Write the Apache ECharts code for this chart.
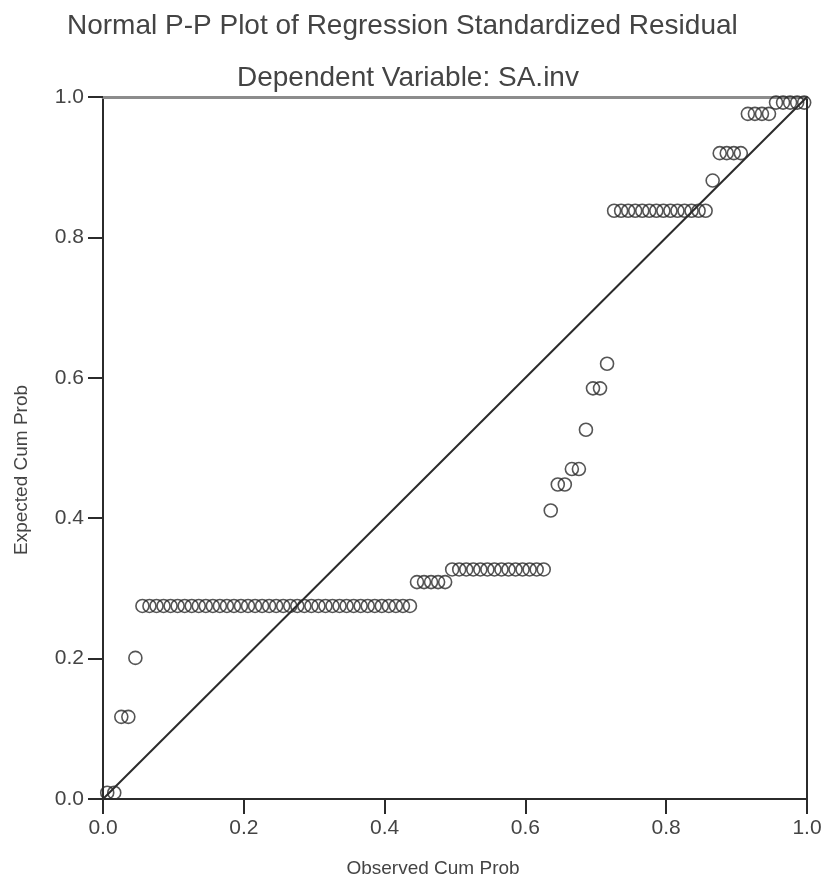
<!DOCTYPE html>
<html>
<head>
<meta charset="utf-8">
<title>Normal P-P Plot</title>
<script src="https://cdn.jsdelivr.net/npm/echarts@6/dist/echarts.min.js"></script>
<style>
  html, body { margin: 0; padding: 0; background: #fff; }
  #main { width: 828px; height: 888px; }
</style>
</head>
<body>
<div id="main"></div>
<script>
// observed cumulative probability (x) for each residual
var observed = [
  0.006, 0.016, 0.026, 0.036, 0.046, 0.056, 0.066, 0.076, 0.086, 0.096,
  0.106, 0.116, 0.126, 0.136, 0.146, 0.156, 0.166, 0.176, 0.186, 0.196,
  0.206, 0.216, 0.226, 0.236, 0.246, 0.256, 0.266, 0.276, 0.286, 0.296,
  0.306, 0.316, 0.326, 0.336, 0.346, 0.356, 0.366, 0.376, 0.386, 0.396,
  0.406, 0.416, 0.426, 0.436, 0.446, 0.456, 0.466, 0.476, 0.486, 0.496,
  0.506, 0.516, 0.526, 0.536, 0.546, 0.556, 0.566, 0.576, 0.586, 0.596,
  0.606, 0.616, 0.626, 0.636, 0.646, 0.656, 0.666, 0.676, 0.686, 0.696,
  0.706, 0.716, 0.726, 0.736, 0.746, 0.756, 0.766, 0.776, 0.786, 0.796,
  0.806, 0.816, 0.826, 0.836, 0.846, 0.856, 0.866, 0.876, 0.886, 0.896,
  0.906, 0.916, 0.926, 0.936, 0.946, 0.956, 0.966, 0.976, 0.986, 0.996
];
// expected cumulative probability (y)
var expected = [
  0.009, 0.009, 0.117, 0.117, 0.201, 0.275, 0.275, 0.275, 0.275, 0.275,
  0.275, 0.275, 0.275, 0.275, 0.275, 0.275, 0.275, 0.275, 0.275, 0.275,
  0.275, 0.275, 0.275, 0.275, 0.275, 0.275, 0.275, 0.275, 0.275, 0.275,
  0.275, 0.275, 0.275, 0.275, 0.275, 0.275, 0.275, 0.275, 0.275, 0.275,
  0.275, 0.275, 0.275, 0.275, 0.309, 0.309, 0.309, 0.309, 0.309, 0.327,
  0.327, 0.327, 0.327, 0.327, 0.327, 0.327, 0.327, 0.327, 0.327, 0.327,
  0.327, 0.327, 0.327, 0.411, 0.448, 0.448, 0.470, 0.470, 0.526, 0.585,
  0.585, 0.620, 0.838, 0.838, 0.838, 0.838, 0.838, 0.838, 0.838, 0.838,
  0.838, 0.838, 0.838, 0.838, 0.838, 0.838, 0.881, 0.920, 0.920, 0.920,
  0.920, 0.976, 0.976, 0.976, 0.976, 0.992, 0.992, 0.992, 0.992, 0.992
];
var refLine = [0, 1];
var axisTicks = [0, 0.2, 0.4, 0.6, 0.8, 1.0];

var points = observed.map(function (x, i) { return [x, expected[i]]; });
var diag = refLine.map(function (v) { return [v, v]; });

var font = "'Liberation Sans', Arial, sans-serif";
var ink = '#2b2b2b';

var chartDom = document.getElementById('main');
var myChart = echarts.init(chartDom, null, { renderer: 'canvas' });
var option;

var mainAxis = function (pos) {
  return {
    type: 'value',
    position: pos,
    min: axisTicks[0],
    max: axisTicks[axisTicks.length - 1],
    interval: 0.2,
    axisLine: { show: true, onZero: false, lineStyle: { color: ink, width: 2 } },
    axisTick: { show: true, length: 15, lineStyle: { color: ink, width: 2 } },
    axisLabel: {
      fontFamily: font, fontSize: 21, color: '#444', margin: 19,
      formatter: function (v) { return v.toFixed(1); }
    },
    splitLine: { show: false }
  };
};

var xMain = mainAxis('bottom');
xMain.name = 'Observed Cum Prob';
xMain.nameLocation = 'middle';
xMain.nameGap = 60;
xMain.nameTextStyle = { fontFamily: font, fontSize: 19, color: '#444', padding: [0, 44, 0, 0] };

var yMain = mainAxis('left');
yMain.name = 'Expected Cum Prob';
yMain.nameLocation = 'middle';
yMain.nameGap = 72;
yMain.nameTextStyle = { fontFamily: font, fontSize: 19, color: '#444', padding: [0, 44, 0, 0] };

option = {
  backgroundColor: '#fff',
  animation: false,
  title: [
    {
      text: 'Normal P-P Plot of Regression Standardized Residual',
      left: 62, top: 7,
      textStyle: { fontFamily: font, fontSize: 28, fontWeight: 'normal', color: '#444' }
    },
    {
      text: 'Dependent Variable: SA.inv',
      left: 232, top: 59,
      textStyle: { fontFamily: font, fontSize: 28, fontWeight: 'normal', color: '#444' }
    }
  ],
  grid: { left: 103, right: 21, top: 97, bottom: 89, containLabel: false },
  xAxis: [
    xMain,
    {
      type: 'value', position: 'top', min: 0, max: 1,
      axisLine: { show: true, onZero: false, lineStyle: { color: '#8c8c8c', width: 3 } },
      axisTick: { show: false }, axisLabel: { show: false }, splitLine: { show: false }
    }
  ],
  yAxis: [
    yMain,
    {
      type: 'value', position: 'right', min: 0, max: 1,
      axisLine: { show: true, onZero: false, lineStyle: { color: ink, width: 2 } },
      axisTick: { show: false }, axisLabel: { show: false }, splitLine: { show: false }
    }
  ],
  series: [
    {
      type: 'line',
      data: diag,
      symbol: 'none',
      lineStyle: { color: ink, width: 2 },
      silent: true
    },
    {
      type: 'scatter',
      data: points,
      symbol: 'circle',
      symbolSize: 13,
      itemStyle: { color: 'rgba(0,0,0,0)', borderColor: ink, borderWidth: 1.6 }
    }
  ]
};

option && myChart.setOption(option);
</script>
</body>
</html>
